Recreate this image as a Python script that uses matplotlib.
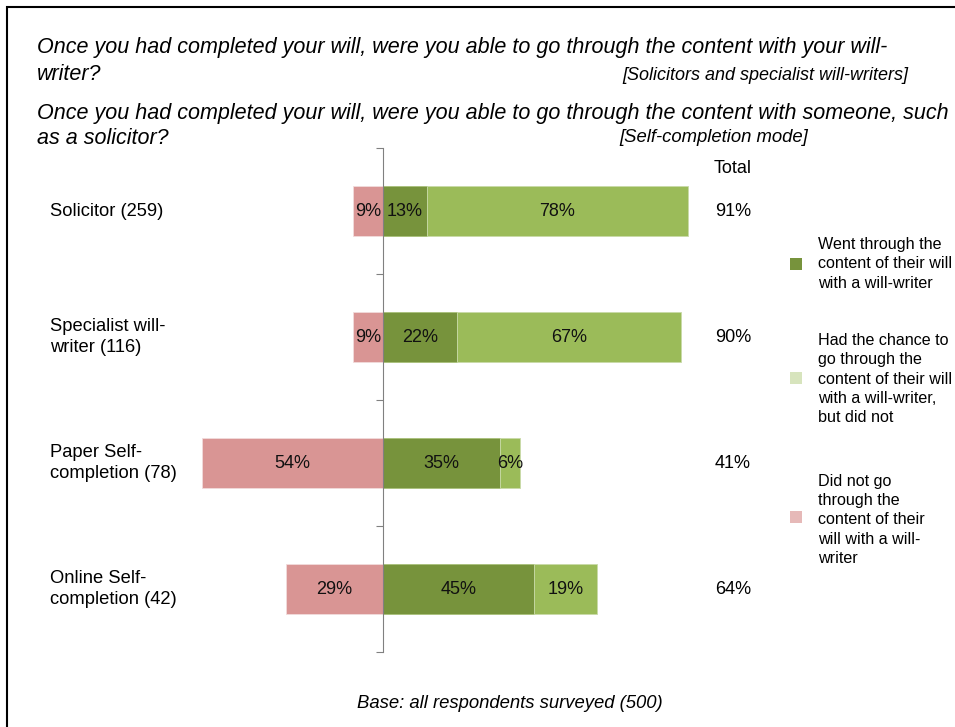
import matplotlib
matplotlib.use("Agg")
import matplotlib.pyplot as plt
from matplotlib.patches import Rectangle

plt.rcParams['font.family'] = ['Liberation Sans', 'DejaVu Sans']

categories = ["Solicitor (259)", "Specialist will-\nwriter (116)",
              "Paper Self-\ncompletion (78)", "Online Self-\ncompletion (42)"]
did_not = [9, 9, 54, 29]
went = [13, 22, 35, 45]
chance = [78, 67, 6, 19]
totals = ["91%", "90%", "41%", "64%"]
legend_labels = ["Went through the\ncontent of their will\nwith a will-writer",
                 "Had the chance to\ngo through the\ncontent of their will\nwith a will-writer,\nbut did not",
                 "Did not go\nthrough the\ncontent of their\nwill with a will-\nwriter"]
legend_colors = ["#77933C", "#D7E4BD", "#E6B9B8"]

c_red = "#D99594"
c_dark = "#77933C"
c_light = "#9BBB59"

W, H = 955, 727
fig = plt.figure(figsize=(W / 100, H / 100), dpi=100)

# outer frame
fig.patches.append(Rectangle((7 / W, -0.05), 1.2, (H - 7) / H + 0.05, transform=fig.transFigure,
                             fill=False, edgecolor="black", linewidth=1.5))

# axes placed in pixel terms: zero line at x=383, 3.35 px per percent
x0, ppp = 383, 3.35
ax_l, ax_r, ax_t, ax_b = 190, 760, 148, 652
ax = fig.add_axes([ax_l / W, (H - ax_b) / H, (ax_r - ax_l) / W, (ax_b - ax_t) / H])
ax.set_xlim((ax_l - x0) / ppp, (ax_r - x0) / ppp)
ax.set_ylim(3.5, -0.5)

y = list(range(len(categories)))
h = 0.4
neg = [-v for v in did_not]
b1 = ax.barh(y, neg, height=h, color=c_red, edgecolor="#F2DCDB", linewidth=0.6)
b2 = ax.barh(y, went, height=h, color=c_dark, edgecolor="#A9C07A", linewidth=0.6)
b3 = ax.barh(y, chance, left=went, height=h, color=c_light, edgecolor="#C9DAA8", linewidth=0.6)

for bars, vals in ((b1, did_not), (b2, went), (b3, chance)):
    for bar, v in zip(bars, vals):
        cx = bar.get_x() + bar.get_width() / 2
        ax.text(cx, bar.get_y() + bar.get_height() / 2, f"{v}%", ha="center", va="center",
                fontsize=13, color="#111111")

for s in ["top", "right", "bottom"]:
    ax.spines[s].set_visible(False)
ax.spines["left"].set_position(("data", 0))
ax.spines["left"].set_color("#808080")
ax.set_yticks([-0.5, 0.5, 1.5, 2.5, 3.5])
ax.set_yticklabels([])
ax.tick_params(axis="y", length=5, color="#808080", direction="out")
ax.set_xticks([])

# category labels and totals
for yi, lab in zip(y, categories):
    ypix = ax.transData.transform((0, yi))[1]
    fig.text(50 / W, ypix / H, lab, ha="left", va="center", fontsize=13.2, linespacing=1.33)
tx = (733 - x0) / ppp
ax.text(tx, -0.34, "Total", ha="center", va="center", fontsize=13)
for yi, t in zip(y, totals):
    ax.text(tx, yi, t, ha="center", va="center", fontsize=13)

# titles
fs_t = 15.5
fig.text(37 / W, 1 - 48 / H, "Once you had completed your will, were you able to go through the content with your will-",
         style="italic", fontsize=fs_t, va="center")
fig.text(37 / W, 1 - 75 / H, "writer?", style="italic", fontsize=fs_t, va="center")
fig.text(908 / W, 1 - 75 / H, "[Solicitors and specialist will-writers]", style="italic", fontsize=13,
         va="center", ha="right")
fig.text(37 / W, 1 - 114 / H, "Once you had completed your will, were you able to go through the content with someone, such",
         style="italic", fontsize=fs_t, va="center")
fig.text(37 / W, 1 - 139 / H, "as a solicitor?", style="italic", fontsize=fs_t, va="center")
fig.text(808 / W, 1 - 137 / H, "[Self-completion mode]", style="italic", fontsize=13.3, va="center", ha="right")

fig.text(510 / W, 1 - 704 / H, "Base: all respondents surveyed (500)", style="italic", fontsize=13.3,
         ha="center", va="center")

# legend, laid out by hand
sq = 12
for lab, col, yc_sq, yc_txt in zip(legend_labels, legend_colors, [264, 378, 517], [264, 379, 520]):
    fig.patches.append(Rectangle(((796 - sq / 2) / W, (H - yc_sq - sq / 2) / H), sq / W, sq / H,
                                 transform=fig.transFigure, facecolor=col, edgecolor="none"))
    fig.text(818 / W, 1 - yc_txt / H, lab, ha="left", va="center", fontsize=11.6, linespacing=1.35)

fig.savefig("out.png", dpi=100)
